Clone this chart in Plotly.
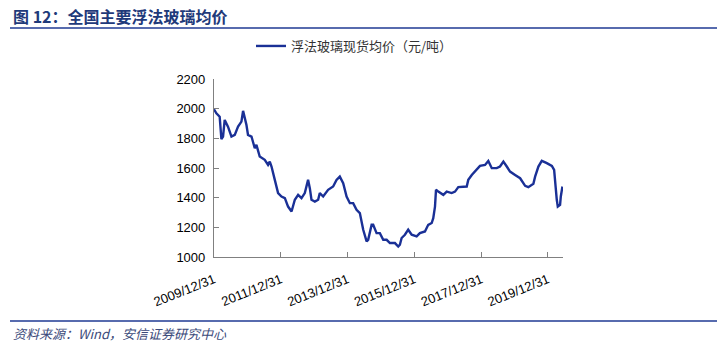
import plotly.graph_objects as go

# 浮法玻璃现货均价（元/吨）
dates = [
    "2009-12-31", "2010-01-26", "2010-03-03", "2010-03-22", "2010-04-09", "2010-04-27",
    "2010-06-02", "2010-07-10", "2010-08-15", "2010-09-20", "2010-10-27", "2010-11-14",
    "2010-12-21", "2011-01-07", "2011-02-14", "2011-03-22", "2011-04-09", "2011-05-15",
    "2011-07-09", "2011-08-14", "2011-09-02", "2011-09-21", "2011-10-27", "2011-12-02",
    "2012-01-08", "2012-02-14", "2012-03-20", "2012-04-27", "2012-06-02", "2012-07-08",
    "2012-08-14", "2012-09-19", "2012-10-25", "2012-11-13", "2012-12-01", "2013-01-07",
    "2013-02-12", "2013-03-02", "2013-04-08", "2013-06-01", "2013-07-26", "2013-09-01",
    "2013-10-07", "2013-11-13", "2013-12-20", "2014-01-25", "2014-03-02", "2014-04-08",
    "2014-05-14", "2014-06-20", "2014-07-27", "2014-08-13", "2014-09-20", "2014-10-07",
    "2014-11-13", "2014-12-19", "2015-01-25", "2015-03-03", "2015-04-08", "2015-06-02",
    "2015-07-08", "2015-07-26", "2015-08-14", "2015-09-19", "2015-10-25", "2015-12-02",
    "2016-01-25", "2016-03-01", "2016-04-25", "2016-05-31", "2016-07-08", "2016-07-25",
    "2016-08-13", "2016-08-24", "2016-09-18", "2016-11-12", "2016-12-19", "2017-02-12",
    "2017-03-20", "2017-04-25", "2017-07-26", "2017-08-12", "2017-09-19", "2017-11-12",
    "2017-12-18", "2018-02-11", "2018-03-19", "2018-04-26", "2018-06-19", "2018-07-25",
    "2018-08-31", "2018-10-07", "2018-11-12", "2019-01-06", "2019-03-02", "2019-04-26",
    "2019-05-31", "2019-07-25", "2019-08-13", "2019-09-18", "2019-10-25", "2019-12-19",
    "2020-02-12", "2020-03-08", "2020-03-22", "2020-04-06", "2020-04-17", "2020-05-12",
    "2020-05-20", "2020-06-07",
]
price = [
    1996, 1969, 1946, 1795, 1812, 1924,
    1879, 1812, 1823, 1879, 1913, 1985,
    1890, 1823, 1812, 1733, 1756, 1677,
    1655, 1621, 1643, 1610, 1520, 1431,
    1408, 1397, 1340, 1307, 1386, 1419,
    1397, 1431, 1520, 1464, 1386, 1374,
    1386, 1431, 1408, 1453, 1475, 1520,
    1542, 1498, 1408, 1363, 1363, 1318,
    1296, 1184, 1105, 1116, 1217, 1217,
    1161, 1161, 1116, 1116, 1094, 1094,
    1071, 1083, 1128, 1150, 1184, 1150,
    1139, 1161, 1172, 1217, 1229, 1262,
    1340, 1453, 1441, 1419, 1441, 1431,
    1441, 1471, 1475, 1520, 1553, 1587,
    1614, 1621, 1648, 1599, 1599, 1610,
    1643, 1610, 1576, 1553, 1531, 1480,
    1471, 1493, 1542, 1610, 1648, 1633,
    1614, 1587, 1475, 1386, 1340, 1352,
    1408, 1475,
]

x_ticks = ["2009-12-31", "2011-12-31", "2013-12-31", "2015-12-31", "2017-12-31", "2019-12-31"]
x_tick_text = ["2009/12/31", "2011/12/31", "2013/12/31", "2015/12/31", "2017/12/31", "2019/12/31"]
y_ticks = [1000, 1200, 1400, 1600, 1800, 2000, 2200]

series_name = "浮法玻璃现货均价（元/吨）"
title_text = "图 12：全国主要浮法玻璃均价"
source_text = "资料来源：Wind，安信证券研究中心"

W, H = 717, 346
L, R, T, B = 214, 154, 79, 89
pw, ph = W - L - R, H - T - B


def px_x(px):
    return (px - L) / pw


def px_y(py):
    return (H - B - py) / ph


CJK = "Noto Sans CJK SC"
blue = "#1f3a93"

fig = go.Figure()
fig.add_trace(go.Scatter(
    x=dates, y=price, mode="lines", name=series_name,
    line=dict(color="#1a3096", width=2.4),
))

fig.update_layout(
    width=W, height=H,
    margin=dict(l=L, r=R, t=T, b=B),
    paper_bgcolor="white", plot_bgcolor="white",
    font=dict(family="Liberation Sans, Arial", size=12, color="#000000"),
    showlegend=True,
    legend=dict(
        x=px_x(251), y=px_y(46), xanchor="left", yanchor="middle",
        orientation="h", bgcolor="rgba(0,0,0,0)",
        font=dict(family=CJK, size=13, color="#333333"),
        itemwidth=30,
    ),
    xaxis=dict(
        type="date",
        range=["2009-12-31", "2020-06-13"],
        tickvals=x_ticks, ticktext=x_tick_text,
        tickangle=-22,
        ticks="inside", ticklen=5, tickcolor="#808080",
        ticklabelstandoff=9,
        showline=True, linecolor="#808080", linewidth=1.2,
        showgrid=False, zeroline=False,
        tickfont=dict(size=13, color="#000000"),
    ),
    yaxis=dict(
        range=[1000, 2200],
        tickvals=y_ticks,
        ticks="inside", ticklen=5, tickcolor="#808080",
        ticklabelstandoff=5,
        showline=True, linecolor="#808080", linewidth=1.2,
        showgrid=False, zeroline=False,
        tickfont=dict(size=13, color="#000000"),
    ),
    shapes=[
        dict(type="line", xref="paper", yref="paper",
             x0=px_x(10), x1=px_x(717), y0=px_y(28), y1=px_y(28),
             line=dict(color=blue, width=1.3)),
        dict(type="line", xref="paper", yref="paper",
             x0=px_x(10), x1=px_x(717), y0=px_y(321), y1=px_y(321),
             line=dict(color=blue, width=1.3)),
    ],
    annotations=[
        dict(text="<b>" + title_text + "</b>", xref="paper", yref="paper",
             x=px_x(11), y=px_y(16), xanchor="left", yanchor="middle",
             showarrow=False, font=dict(family=CJK, size=16, color="#1f3a7a")),
        dict(text="<i>" + source_text + "</i>", xref="paper", yref="paper",
             x=px_x(11), y=px_y(333), xanchor="left", yanchor="middle",
             showarrow=False, font=dict(family=CJK, size=13, color="#3b4a7a")),
    ],
)

fig.write_html("out.html")
